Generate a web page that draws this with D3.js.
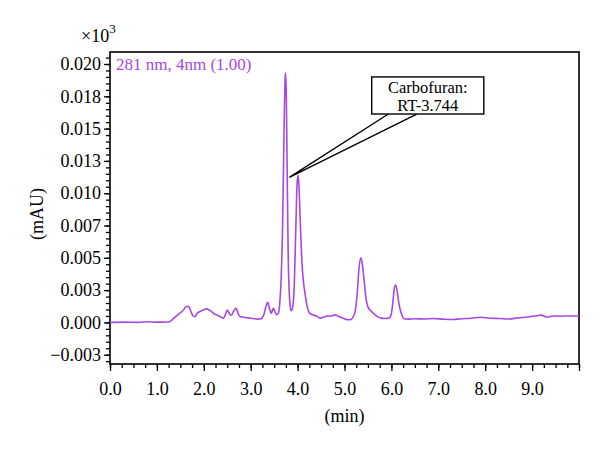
<!DOCTYPE html>
<html>
<head>
<meta charset="utf-8">
<script src="https://d3js.org/d3.v7.min.js"></script>
<style>
  body { margin: 0; background: #fff; }
  text { font-family: "Liberation Serif", "DejaVu Serif", serif; }
</style>
</head>
<body>
<div id="chart"></div>
<script>
// retention time (min)
var times = [0.00, 0.30, 0.60, 0.80, 1.00, 1.20, 1.26, 1.35, 1.45, 1.55, 1.62, 1.67, 1.72, 1.77, 1.81,
  1.86, 1.92, 1.98, 2.06, 2.12, 2.18, 2.24, 2.30, 2.36, 2.42, 2.46, 2.50, 2.55, 2.59, 2.64, 2.69,
  2.73, 2.77, 2.85, 2.95, 3.05, 3.15, 3.22, 3.28, 3.33, 3.36, 3.40, 3.44, 3.48, 3.51, 3.55, 3.59,
  3.62, 3.65, 3.68, 3.71, 3.735, 3.745, 3.76, 3.78, 3.80, 3.83, 3.86, 3.89, 3.93, 3.96, 3.99, 4.01,
  4.03, 4.06, 4.09, 4.12, 4.16, 4.19, 4.26, 4.33, 4.40, 4.48, 4.55, 4.62, 4.70, 4.80, 4.88, 4.97,
  5.05, 5.12, 5.18, 5.23, 5.27, 5.31, 5.35, 5.38, 5.42, 5.46, 5.50, 5.56, 5.62, 5.70, 5.78, 5.88,
  5.96, 6.00, 6.03, 6.06, 6.09, 6.12, 6.15, 6.18, 6.22, 6.26, 6.35, 6.50, 6.70, 6.90, 7.10, 7.30,
  7.50, 7.70, 7.90, 8.10, 8.30, 8.50, 8.70, 8.90, 9.10, 9.20, 9.32, 9.45, 9.60, 9.80, 10.00];

// absorbance (mAU x10^3)
var signal = [0.00000, 0.00002, 0.00000, 0.00005, 0.00002, 0.00003, 0.00003, 0.00030, 0.00060, 0.00090, 0.00120, 0.00125, 0.00090, 0.00050, 0.00045,
  0.00070, 0.00085, 0.00095, 0.00105, 0.00095, 0.00080, 0.00062, 0.00055, 0.00042, 0.00033, 0.00060, 0.00095, 0.00065, 0.00055, 0.00090, 0.00110,
  0.00070, 0.00045, 0.00040, 0.00035, 0.00030, 0.00025, 0.00028, 0.00060, 0.00130, 0.00155, 0.00110, 0.00070, 0.00110, 0.00090, 0.00060, 0.00070,
  0.00150, 0.00350, 0.00750, 0.01450, 0.01900, 0.01930, 0.01750, 0.01100, 0.00500, 0.00180, 0.00090, 0.00110, 0.00300, 0.00700, 0.01080, 0.01140,
  0.01050, 0.00750, 0.00480, 0.00330, 0.00220, 0.00150, 0.00070, 0.00058, 0.00050, 0.00033, 0.00040, 0.00050, 0.00048, 0.00058, 0.00045, 0.00033,
  0.00022, 0.00020, 0.00040, 0.00090, 0.00220, 0.00420, 0.00500, 0.00450, 0.00320, 0.00180, 0.00120, 0.00090, 0.00070, 0.00045, 0.00033, 0.00030,
  0.00035, 0.00070, 0.00150, 0.00260, 0.00290, 0.00250, 0.00170, 0.00110, 0.00060, 0.00030, 0.00025, 0.00028, 0.00026, 0.00030, 0.00025, 0.00022,
  0.00028, 0.00032, 0.00040, 0.00032, 0.00030, 0.00026, 0.00035, 0.00042, 0.00052, 0.00056, 0.00040, 0.00050, 0.00048, 0.00050, 0.00050];

var xTickValues = [0, 1, 2, 3, 4, 5, 6, 7, 8, 9, 10];
var xTickLabels = ["0.0", "1.0", "2.0", "3.0", "4.0", "5.0", "6.0", "7.0", "8.0", "9.0", ""];
var yTickValues = [-0.0025, 0, 0.0025, 0.005, 0.0075, 0.01, 0.0125, 0.015, 0.0175, 0.02];
var yTickLabels = ["\u22120.003", "0.000", "0.003", "0.005", "0.007", "0.010", "0.013", "0.015", "0.018", "0.020"];

// callout, in data units
var callout = { lines: ["Carbofuran:", "RT-3.744"], tip: [3.823, 0.01123],
  box: [5.58, 7.97, 0.01900, 0.01613], feet: [5.935, 6.54] };

var width = 600, height = 450;
var margin = { top: 52, right: 21, bottom: 86, left: 110 };
var purple = "#a847e3";

var svg = d3.select("#chart").append("svg")
  .attr("width", width).attr("height", height);

var x = d3.scaleLinear().domain([0, 10]).range([margin.left, width - margin.right]);
var y = d3.scaleLinear().domain([-0.00322, 0.02093]).range([height - margin.bottom, margin.top]);

// minor ticks
svg.append("g")
  .attr("transform", "translate(0," + (height - margin.bottom) + ")")
  .call(d3.axisBottom(x).tickValues(d3.range(0, 10.001, 0.25)).tickSize(4).tickFormat(""));
svg.append("g")
  .attr("transform", "translate(" + margin.left + ",0)")
  .call(d3.axisLeft(y).tickValues(d3.range(-0.003, 0.0209, 0.0005)).tickSize(4).tickFormat(""));

// major ticks
svg.append("g")
  .attr("transform", "translate(0," + (height - margin.bottom) + ")")
  .call(d3.axisBottom(x).tickValues(xTickValues).tickSize(7).tickPadding(11)
    .tickFormat(function(d, i) { return xTickLabels[i]; }));
svg.append("g")
  .attr("transform", "translate(" + margin.left + ",0)")
  .call(d3.axisLeft(y).tickValues(yTickValues).tickSize(6).tickPadding(3)
    .tickFormat(function(d, i) { return yTickLabels[i]; }));

svg.selectAll(".tick text").attr("font-size", 18).attr("font-family", "Liberation Serif").attr("fill", "#000");
svg.selectAll(".domain").remove();
svg.selectAll(".tick line").attr("stroke", "#000").attr("stroke-width", 1.3);

// frame
svg.append("rect")
  .attr("x", margin.left).attr("y", margin.top)
  .attr("width", width - margin.left - margin.right)
  .attr("height", height - margin.top - margin.bottom)
  .attr("fill", "none").attr("stroke", "#000").attr("stroke-width", 1.6);

// trace
var line = d3.line()
  .x(function(d, i) { return x(times[i]); })
  .y(function(d) { return y(d); })
  .curve(d3.curveMonotoneX);
svg.append("path")
  .datum(signal)
  .attr("d", line)
  .attr("fill", "none")
  .attr("stroke", purple)
  .attr("stroke-width", 1.6);

// labels
svg.append("text")
  .attr("x", margin.left + 6).attr("y", y(0.02) + 6)
  .attr("font-size", 17).attr("fill", purple)
  .text("281 nm, 4nm (1.00)");

var mult = svg.append("text").attr("x", 81).attr("y", 42).attr("font-size", 18);
mult.append("tspan").text("\u00d710");
mult.append("tspan").attr("dy", -9).attr("font-size", 13).text("3");

svg.append("text")
  .attr("transform", "translate(43,214) rotate(-90)")
  .attr("text-anchor", "middle").attr("font-size", 18)
  .text("(mAU)");

svg.append("text")
  .attr("x", (margin.left + width - margin.right) / 2).attr("y", 422)
  .attr("text-anchor", "middle").attr("font-size", 18)
  .text("(min)");

// callout
var b = callout.box;
svg.append("path")
  .attr("d", "M" + x(callout.feet[0]) + "," + y(b[3]) + "L" + x(callout.tip[0]) + "," + y(callout.tip[1]) +
    "L" + x(callout.feet[1]) + "," + y(b[3]))
  .attr("fill", "#fff").attr("stroke", "#000").attr("stroke-width", 1.4);
svg.append("rect")
  .attr("x", x(b[0])).attr("y", y(b[2]))
  .attr("width", x(b[1]) - x(b[0])).attr("height", y(b[3]) - y(b[2]))
  .attr("fill", "#fff").attr("stroke", "#000").attr("stroke-width", 1.4);
var cx = (x(b[0]) + x(b[1])) / 2;
svg.selectAll(".callout-text")
  .data(callout.lines)
  .enter().append("text")
  .attr("class", "callout-text")
  .attr("x", cx)
  .attr("y", function(d, i) { return y(b[2]) + 16 + i * 18; })
  .attr("text-anchor", "middle").attr("font-size", 16.5)
  .text(function(d) { return d; });
</script>
</body>
</html>
